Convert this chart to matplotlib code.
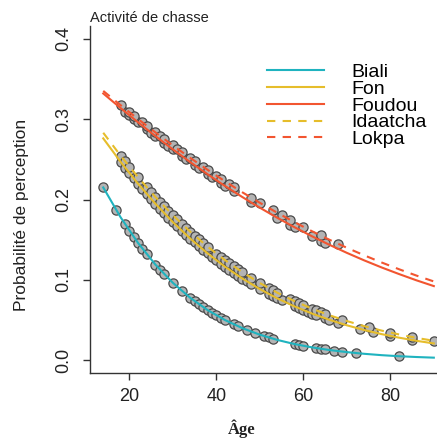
"""
Probabilité de perception selon l'âge - activité de chasse
"""

import matplotlib

matplotlib.use("Agg")
import matplotlib.pyplot as plt

## Fitted curves
curve_age = [14, 18, 22, 26, 30, 34, 38, 42, 46, 50,
             54, 58, 62, 66, 70, 74, 78, 82, 86, 90]
biali_fit = [0.2150, 0.1778, 0.1459, 0.1189, 0.0963, 0.0776, 0.0623, 0.0499, 0.0398, 0.0317,
             0.0252, 0.0200, 0.0159, 0.0126, 0.0100, 0.0079, 0.0062, 0.0049, 0.0039, 0.0031]
fon_fit = [0.2761, 0.2468, 0.2196, 0.1947, 0.1719, 0.1514, 0.1329, 0.1163, 0.1016, 0.0885,
           0.0770, 0.0669, 0.0580, 0.0502, 0.0434, 0.0375, 0.0324, 0.0280, 0.0241, 0.0208]
foudou_fit = [0.3320, 0.3138, 0.2961, 0.2789, 0.2624, 0.2466, 0.2314, 0.2168, 0.2030, 0.1898,
              0.1773, 0.1654, 0.1542, 0.1436, 0.1336, 0.1242, 0.1154, 0.1072, 0.0994, 0.0922]
idaatcha_fit = [0.2831, 0.2545, 0.2278, 0.2031, 0.1805, 0.1599, 0.1412, 0.1245, 0.1094, 0.0960,
                0.0840, 0.0734, 0.0641, 0.0559, 0.0487, 0.0423, 0.0368, 0.0320, 0.0277, 0.0241]
lokpa_fit = [0.3352, 0.3174, 0.3002, 0.2835, 0.2673, 0.2518, 0.2369, 0.2226, 0.2089, 0.1959,
             0.1835, 0.1717, 0.1605, 0.1499, 0.1399, 0.1305, 0.1216, 0.1132, 0.1053, 0.0980]

## Individual predicted values (points)
biali_age = [14, 17, 19, 20, 21, 22, 23, 24, 26, 27, 28, 30, 32, 34, 35, 36, 37, 38, 39, 40,
             41, 42, 44, 45, 47, 49, 51, 52, 53, 58, 59, 60, 63, 64, 65, 67, 69, 72, 82]
biali_p = [0.2150, 0.1866, 0.1694, 0.1612, 0.1534, 0.1459, 0.1387, 0.1318, 0.1189, 0.1128,
           0.1071, 0.0963, 0.0865, 0.0776, 0.0735, 0.0696, 0.0659, 0.0623, 0.0590, 0.0558,
           0.0527, 0.0499, 0.0446, 0.0421, 0.0376, 0.0336, 0.0300, 0.0283, 0.0267, 0.0200,
           0.0189, 0.0178, 0.0150, 0.0141, 0.0133, 0.0119, 0.0106, 0.0089, 0.0049]

fon_age = [18, 19, 20, 21, 22, 23, 24, 25, 26, 27, 28, 29, 30, 31, 32, 33, 34, 35, 36, 37,
           38, 39, 40, 41, 42, 43, 44, 45, 46, 47, 48, 50, 52, 53, 54, 55, 58, 59, 60, 61,
           62, 63, 65, 66, 68, 73, 76, 80, 85]
fon_p = [0.2468, 0.2398, 0.2329, 0.2262, 0.2196, 0.2132, 0.2069, 0.2007, 0.1947, 0.1888,
         0.1830, 0.1774, 0.1719, 0.1666, 0.1614, 0.1563, 0.1514, 0.1466, 0.1419, 0.1373,
         0.1329, 0.1285, 0.1243, 0.1203, 0.1163, 0.1125, 0.1087, 0.1051, 0.1016, 0.0982,
         0.0948, 0.0885, 0.0826, 0.0797, 0.0770, 0.0743, 0.0669, 0.0646, 0.0623, 0.0601,
         0.0580, 0.0559, 0.0521, 0.0502, 0.0467, 0.0390, 0.0349, 0.0301, 0.0250]

idaatcha_age = [18, 19, 20, 22, 24, 25, 26, 27, 28, 29, 30, 31, 32, 33, 34, 35, 36, 37, 38, 40,
                41, 42, 43, 44, 45, 46, 48, 50, 52, 53, 54, 57, 58, 59, 60, 62, 63, 64, 65, 69,
                75, 80, 85, 90]
idaatcha_p = [0.2545, 0.2476, 0.2408, 0.2277, 0.2152, 0.2091, 0.2031, 0.1972, 0.1915, 0.1859,
              0.1805, 0.1752, 0.1700, 0.1649, 0.1599, 0.1551, 0.1503, 0.1457, 0.1412, 0.1326,
              0.1285, 0.1245, 0.1205, 0.1167, 0.1130, 0.1094, 0.1025, 0.0960, 0.0898, 0.0869,
              0.0840, 0.0760, 0.0735, 0.0710, 0.0686, 0.0641, 0.0620, 0.0599, 0.0579, 0.0504,
              0.0409, 0.0343, 0.0288, 0.0241]

foudou_age = [19, 20, 21, 22, 24, 25, 26, 28, 29, 30, 32, 33, 35, 36, 38, 39, 41, 42, 44, 48,
              54, 57, 58, 62, 64, 65]
foudou_p = [0.3095, 0.3050, 0.3006, 0.2963, 0.2876, 0.2834, 0.2792, 0.2708, 0.2667, 0.2626,
            0.2546, 0.2507, 0.2429, 0.2391, 0.2316, 0.2279, 0.2206, 0.2170, 0.2100, 0.1965,
            0.1774, 0.1685, 0.1656, 0.1543, 0.1489, 0.1463]

lokpa_age = [18, 20, 21, 23, 24, 26, 27, 28, 30, 31, 32, 34, 35, 37, 38, 40, 41, 43, 44, 48,
             50, 53, 55, 57, 60, 64, 68]
lokpa_p = [0.3174, 0.3087, 0.3044, 0.2959, 0.2917, 0.2835, 0.2794, 0.2753, 0.2673, 0.2634,
           0.2595, 0.2518, 0.2480, 0.2406, 0.2369, 0.2297, 0.2261, 0.2191, 0.2157, 0.2023,
           0.1959, 0.1866, 0.1805, 0.1746, 0.1661, 0.1554, 0.1451]

groups = ["Biali", "Fon", "Foudou", "Idaatcha", "Lokpa"]
y_ticks = [0.0, 0.1, 0.2, 0.3, 0.4]
x_ticks = [20, 40, 60, 80]

c_cyan = "#1fb3bf"
c_yellow = "#e6bd2b"
c_red = "#f25530"

plt.rcParams["font.family"] = ["Liberation Sans", "DejaVu Sans"]


def plot_data() -> None:
    fig = plt.figure(figsize=(4.37, 4.38), dpi=100)
    # right edge of the plot region is cut off in the original
    ax = fig.add_axes([0.206, 0.1484, 0.817, 0.7922])

    pt = dict(marker="o", s=44, facecolor="#b4b4b4", edgecolor="#4a4a4a",
              linewidth=0.9, zorder=2)
    for a, p in [(biali_age, biali_p), (fon_age, fon_p), (idaatcha_age, idaatcha_p),
                 (foudou_age, foudou_p), (lokpa_age, lokpa_p)]:
        ax.scatter(a, p, **pt)

    lw = 1.5
    ax.plot(curve_age, biali_fit, color=c_cyan, lw=lw, label=groups[0], zorder=3)
    ax.plot(curve_age, fon_fit, color=c_yellow, lw=lw, label=groups[1], zorder=3)
    ax.plot(curve_age, foudou_fit, color=c_red, lw=lw, label=groups[2], zorder=3)
    ax.plot(curve_age, idaatcha_fit, color=c_yellow, lw=lw, dashes=(4, 3.5),
            label=groups[3], zorder=3)
    ax.plot(curve_age, lokpa_fit, color=c_red, lw=lw, dashes=(4, 3.5),
            label=groups[4], zorder=3)

    ax.set_xlim(10.96, 93.04)
    ax.set_ylim(-0.016, 0.416)
    ax.set_xticks(x_ticks)
    ax.set_yticks(y_ticks)
    ax.set_yticklabels([f"{v:.1f}" for v in y_ticks], rotation=90, va="center")
    ax.tick_params(axis="both", length=5, width=1.0, color="#333333",
                   labelsize=13, labelcolor="#222222")
    ax.tick_params(axis="y", pad=8)
    ax.tick_params(axis="x", pad=6)
    for side in ["top", "right"]:
        ax.spines[side].set_visible(False)
    for side in ["left", "bottom"]:
        ax.spines[side].set_color("#333333")
        ax.spines[side].set_linewidth(1.0)

    ax.set_ylabel("Probabilité de perception", fontsize=12.5, color="#222222")
    ax.yaxis.set_label_coords(-0.172, 0.455)
    ax.set_xlabel("Âge", fontsize=12, fontweight="bold",
                  family=["Liberation Serif", "DejaVu Serif"], color="#222222")
    ax.xaxis.set_label_coords(0.426, -0.135)
    ax.set_title("Activité de chasse", loc="left", fontsize=10.5, pad=3, color="#222222")

    ax.legend(loc="upper left", bbox_to_anchor=(0.475, 0.915), frameon=False,
              fontsize=14, handlelength=2.9, handletextpad=1.4,
              labelspacing=-0.04, borderaxespad=0.0)

    fig.savefig("out.png", dpi=100)


if __name__ == "__main__":
    plot_data()
